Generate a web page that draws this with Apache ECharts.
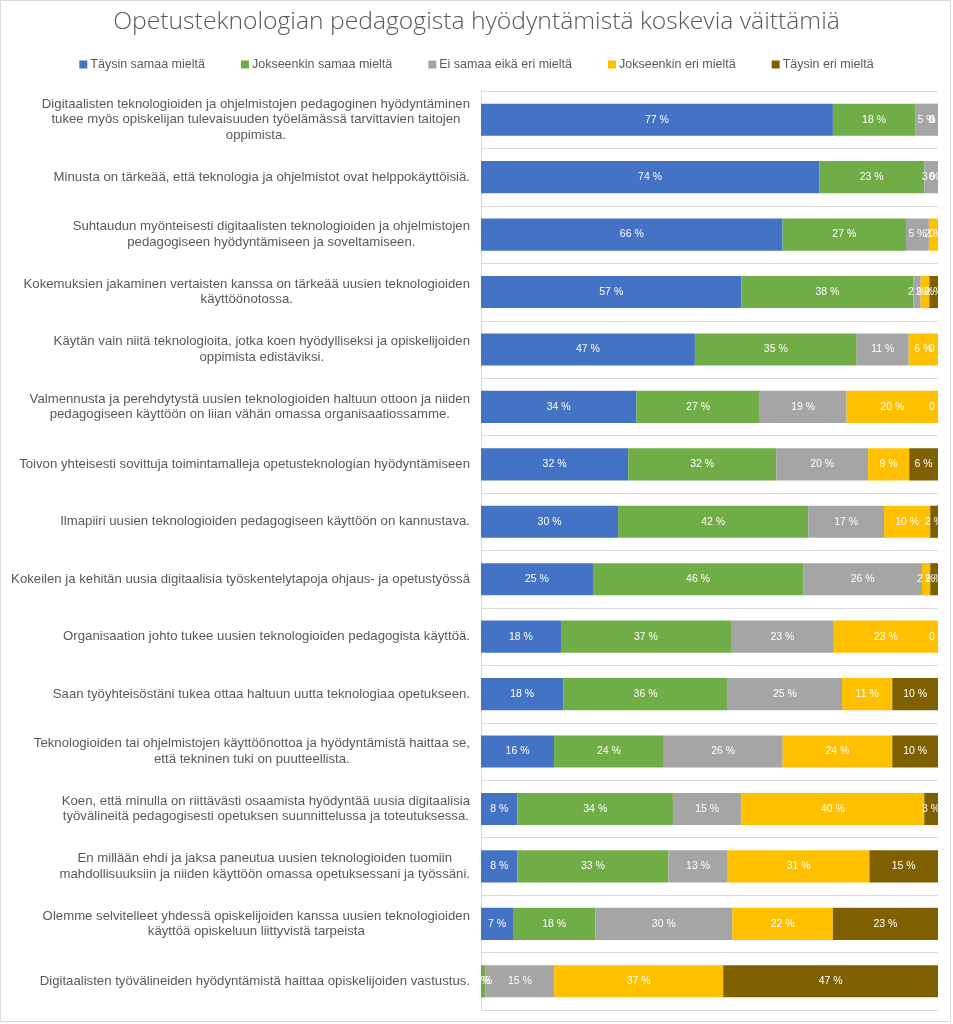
<!DOCTYPE html>
<html>
<head>
<meta charset="utf-8">
<script src="https://cdn.jsdelivr.net/npm/echarts@6/dist/echarts.min.js"></script>
<style>
  html, body { margin: 0; padding: 0; background: #fff; }
  #chart { width: 953px; height: 1024px; }
</style>
</head>
<body>
<div id="chart"></div>
<script>
const categories = [
  "Digitaalisten teknologioiden ja ohjelmistojen pedagoginen hyödyntäminen\ntukee myös opiskelijan tulevaisuuden työelämässä tarvittavien taitojen\noppimista.",
  "Minusta on tärkeää, että teknologia ja ohjelmistot ovat helppokäyttöisiä.",
  "Suhtaudun myönteisesti digitaalisten teknologioiden ja ohjelmistojen\npedagogiseen hyödyntämiseen ja soveltamiseen.",
  "Kokemuksien jakaminen vertaisten kanssa on tärkeää uusien teknologioiden\nkäyttöönotossa.",
  "Käytän vain niitä teknologioita, jotka koen hyödylliseksi ja opiskelijoiden\noppimista edistäviksi.",
  "Valmennusta ja perehdytystä uusien teknologioiden haltuun ottoon ja niiden\npedagogiseen käyttöön on liian vähän omassa organisaatiossamme.",
  "Toivon yhteisesti sovittuja toimintamalleja opetusteknologian hyödyntämiseen",
  "Ilmapiiri uusien teknologioiden pedagogiseen käyttöön on kannustava.",
  "Kokeilen ja kehitän uusia digitaalisia työskentelytapoja ohjaus- ja opetustyössä",
  "Organisaation johto tukee uusien teknologioiden pedagogista käyttöä.",
  "Saan työyhteisöstäni tukea ottaa haltuun uutta teknologiaa opetukseen.",
  "Teknologioiden tai ohjelmistojen käyttöönottoa ja hyödyntämistä haittaa se,\nettä tekninen tuki on puutteellista.",
  "Koen, että minulla on riittävästi osaamista hyödyntää uusia digitaalisia\ntyövälineitä pedagogisesti opetuksen suunnittelussa ja toteutuksessa.",
  "En millään ehdi ja jaksa paneutua uusien teknologioiden tuomiin\nmahdollisuuksiin ja niiden käyttöön omassa opetuksessani ja työssäni.",
  "Olemme selvitelleet yhdessä opiskelijoiden kanssa uusien teknologioiden\nkäyttöä opiskeluun liittyvistä tarpeista",
  "Digitaalisten työvälineiden hyödyntämistä haittaa opiskelijoiden vastustus."
];

const seriesNames = [
  "Täysin samaa mieltä",
  "Jokseenkin samaa mieltä",
  "Ei samaa eikä eri mieltä",
  "Jokseenkin eri mieltä",
  "Täysin eri mieltä"
];

const taysinSamaa     = [77, 74, 66, 57,   46.8, 34, 32.2, 30,   24.5, 17.5, 18, 16,  8,  8,  7,  0];
const jokseenkinSamaa = [18, 23, 27, 37.6, 35.4, 27, 32.4, 41.6, 46,   37.2, 36, 24, 34, 33, 18,  1];
const eiSamaaEikaEri  = [ 5,  3,  5,  1.6, 11.4, 19, 20.1, 16.6, 26,   22.5, 25, 26, 15, 13, 30, 15];
const jokseenkinEri   = [ 0,  0,  2,  1.9,  6.4, 20,  9,   10.1,  1.8, 22.8, 11, 24, 40, 31, 22, 37];
const taysinEri       = [ 0,  0,  0,  1.9,  0,    0,  6.3,  1.7,  1.7,  0,   10, 10,  3, 15, 23, 47];

const seriesValues = [taysinSamaa, jokseenkinSamaa, eiSamaaEikaEri, jokseenkinEri, taysinEri];
const colors = ['#4472C4', '#70AD47', '#A5A5A5', '#FFC000', '#7F6000'];

const chart = echarts.init(document.getElementById('chart'), null, { renderer: 'canvas' });

const option = {
  backgroundColor: '#ffffff',
  animation: false,
  color: colors,
  title: {
    text: 'Opetusteknologian pedagogista hyödyntämistä koskevia väittämiä',
    left: 'center',
    top: 4,
    textStyle: {
      fontFamily: 'Open Sans',
      fontWeight: 300,
      fontSize: 24.7,
      color: '#595959'
    }
  },
  legend: {
    top: 53,
    left: 'center',
    itemWidth: 8,
    itemHeight: 8,
    itemGap: 36,
    icon: 'rect',
    textStyle: {
      fontFamily: 'Liberation Sans',
      fontSize: 12.5,
      color: '#595959',
      padding: [0, 0, 0, -2]
    },
    data: seriesNames
  },
  graphic: [{
    type: 'rect',
    shape: { x: 0.5, y: 0.5, width: 950, height: 1021 },
    style: { fill: 'none', stroke: '#D9D9D9', lineWidth: 1 },
    silent: true
  }],
  grid: {
    left: 481,
    right: 15,
    top: 91,
    bottom: 14,
    containLabel: false
  },
  xAxis: {
    type: 'value',
    min: 0,
    max: 100,
    show: false
  },
  yAxis: {
    type: 'category',
    inverse: true,
    data: categories,
    axisLine: { show: true, lineStyle: { color: '#D9D9D9' } },
    axisTick: { show: false },
    splitLine: { show: true, lineStyle: { color: '#D9D9D9', width: 1 } },
    axisLabel: {
      margin: 11,
      align: 'right',
      fontFamily: 'Liberation Sans',
      fontSize: 13.2,
      color: '#595959',
      lineHeight: 15.5,
      formatter: function (value) {
        return value.split('\n').map(function (l) { return '{c|' + l + '}'; }).join('\n');
      },
      rich: {
        c: {
          align: 'center',
          fontFamily: 'Liberation Sans',
          fontSize: 13.2,
          color: '#595959',
          lineHeight: 15.5
        }
      }
    }
  },
  series: seriesNames.map(function (name, i) {
    return {
      name: name,
      type: 'bar',
      stack: 'total',
      barCategoryGap: '44%',
      data: seriesValues[i],
      itemStyle: { color: colors[i] },
      label: {
        show: true,
        position: 'inside',
        color: '#ffffff',
        fontFamily: 'Liberation Sans',
        fontSize: 10.5,
        formatter: function (p) { return Math.round(p.value) + ' %'; }
      }
    };
  })
};

chart.setOption(option);
</script>
</body>
</html>
